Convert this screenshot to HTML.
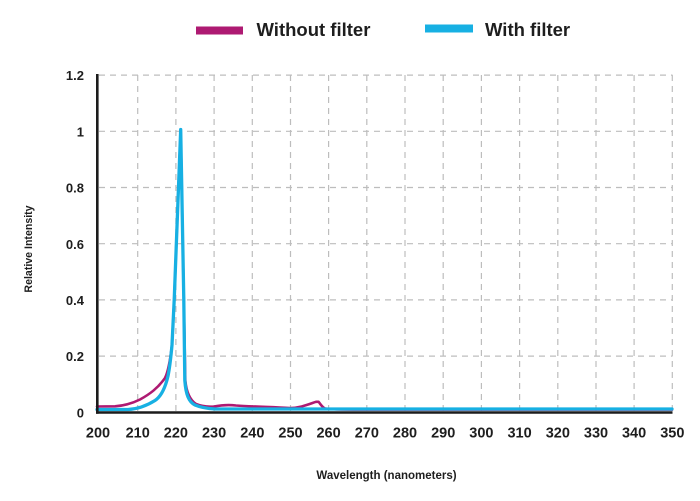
<!DOCTYPE html>
<html>
<head>
<meta charset="utf-8">
<style>
html,body{margin:0;padding:0;background:#fff;}
svg{display:block;}
text{font-family:"Liberation Sans",Arial,sans-serif;font-weight:bold;fill:#1e1e1e;}
</style>
</head>
<body>
<svg width="700" height="501" viewBox="0 0 700 501" xmlns="http://www.w3.org/2000/svg">
  <!-- Legend -->
  <rect x="196" y="26.5" width="47" height="8" fill="#AE1A72"/>
  <text x="256.5" y="36" font-size="18.5">Without filter</text>
  <rect x="425" y="24.5" width="48" height="8" fill="#17B0E3"/>
  <text x="485" y="36" font-size="18.5">With filter</text>

  <!-- Grid -->
  <g stroke="#bdbdbd" stroke-width="1.2" stroke-dasharray="6,5" fill="none">
    <line x1="99" y1="75.1" x2="672.5" y2="75.1"/>
    <line x1="99" y1="131.3" x2="672.5" y2="131.3"/>
    <line x1="99" y1="187.5" x2="672.5" y2="187.5"/>
    <line x1="99" y1="243.7" x2="672.5" y2="243.7"/>
    <line x1="99" y1="299.9" x2="672.5" y2="299.9"/>
    <line x1="99" y1="356.1" x2="672.5" y2="356.1"/>
    <line x1="137.7" y1="75" x2="137.7" y2="411"/>
    <line x1="175.9" y1="75" x2="175.9" y2="411"/>
    <line x1="214.1" y1="75" x2="214.1" y2="411"/>
    <line x1="252.3" y1="75" x2="252.3" y2="411"/>
    <line x1="290.5" y1="75" x2="290.5" y2="411"/>
    <line x1="328.6" y1="75" x2="328.6" y2="411"/>
    <line x1="366.8" y1="75" x2="366.8" y2="411"/>
    <line x1="405.0" y1="75" x2="405.0" y2="411"/>
    <line x1="443.2" y1="75" x2="443.2" y2="411"/>
    <line x1="481.4" y1="75" x2="481.4" y2="411"/>
    <line x1="519.6" y1="75" x2="519.6" y2="411"/>
    <line x1="557.8" y1="75" x2="557.8" y2="411"/>
    <line x1="596.0" y1="75" x2="596.0" y2="411"/>
    <line x1="634.1" y1="75" x2="634.1" y2="411"/>
    <line x1="672.3" y1="75" x2="672.3" y2="411"/>
  </g>

  <!-- Series: without filter -->
  <path d="M97,406.5 L115,406.3 C125,405.6 133,403 140,399.5 C150,394 158,388 165,378 C168,372 170,362 172,345 L174.2,300 L180.7,129.5 L183.8,300 L185.3,380 C186.3,392 190,400 196,404 C202,406.5 208,407 214,406.5 C222,405 228,404.5 236,405.5 C250,406.5 270,407 290,408 C300,408 308,404.5 316,401.8 L318.5,401.8 C320.5,404 322,407 325,408.5 C330,409.5 340,409.6 360,409.6 L672,409.6"
        fill="none" stroke="#AE1A72" stroke-width="2.6" stroke-linejoin="round" stroke-linecap="round"/>

  <!-- Series: with filter -->
  <path d="M97,409.5 L128,409.5 C139,409 147,405.5 155,400.5 C161,396.5 165,389 168,376 C170,366 171,356 172,345 L174.2,300 L180.7,129.5 L183.8,300 L184.8,380 C185.8,395 189,402 195,405 C202,408 208,408.6 215,409 L672,409"
        fill="none" stroke="#17B0E3" stroke-width="3.3" stroke-linejoin="round" stroke-linecap="round"/>

  <!-- Axes -->
  <line x1="97.3" y1="74" x2="97.3" y2="413.7" stroke="#1c1c1c" stroke-width="2.6"/>
  <line x1="96" y1="412.5" x2="672.5" y2="412.5" stroke="#1c1c1c" stroke-width="2.6"/>

  <!-- Y tick labels -->
  <g font-size="13" text-anchor="end">
    <text x="84" y="80.2">1.2</text>
    <text x="84" y="136.4">1</text>
    <text x="84" y="192.6">0.8</text>
    <text x="84" y="248.8">0.6</text>
    <text x="84" y="305">0.4</text>
    <text x="84" y="361.2">0.2</text>
    <text x="84" y="417.4">0</text>
  </g>

  <!-- X tick labels -->
  <g font-size="14.5" text-anchor="middle">
    <text x="98" y="437.5">200</text>
    <text x="137.7" y="437.5">210</text>
    <text x="175.9" y="437.5">220</text>
    <text x="214.1" y="437.5">230</text>
    <text x="252.3" y="437.5">240</text>
    <text x="290.5" y="437.5">250</text>
    <text x="328.6" y="437.5">260</text>
    <text x="366.8" y="437.5">270</text>
    <text x="405.0" y="437.5">280</text>
    <text x="443.2" y="437.5">290</text>
    <text x="481.4" y="437.5">300</text>
    <text x="519.6" y="437.5">310</text>
    <text x="557.8" y="437.5">320</text>
    <text x="596.0" y="437.5">330</text>
    <text x="634.1" y="437.5">340</text>
    <text x="672.3" y="437.5">350</text>
  </g>

  <!-- Axis titles -->
  <text x="386.5" y="479" font-size="11.5" text-anchor="middle">Wavelength (nanometers)</text>
  <text transform="translate(32,249) rotate(-90)" font-size="10.6" text-anchor="middle">Relative Intensity</text>
</svg>
</body>
</html>
